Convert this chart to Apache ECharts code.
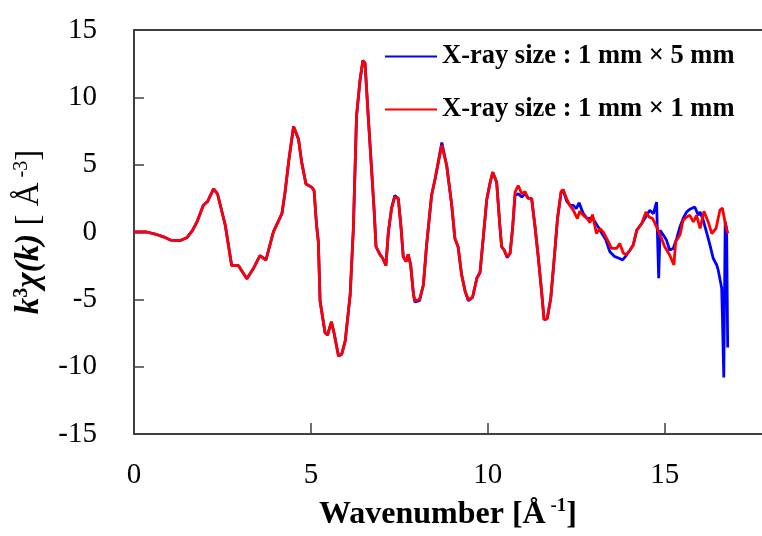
<!DOCTYPE html>
<html>
<head>
<meta charset="utf-8">
<script src="https://cdn.jsdelivr.net/npm/echarts@6/dist/echarts.min.js"></script>
<style>html,body{margin:0;padding:0;background:#fff}#c{width:762px;height:536px}</style>
</head>
<body>
<div id="c"></div>
<script>
// Wavenumber k (1/Å) and k^3 chi(k)
var kRed = [0,0.36,0.6,0.83,1.03,1.31,1.49,1.65,1.78,1.96,2.08,2.25,2.36,2.58,2.76,2.95,3.19,3.38,3.56,3.73,3.94,4.18,4.27,4.38,4.51,4.65,4.74,4.86,5.02,5.09,5.16,5.21,5.26,5.40,5.47,5.58,5.65,5.78,5.87,5.97,6.11,6.20,6.29,6.39,6.47,6.53,6.62,6.72,6.79,6.84,6.95,7.03,7.12,7.19,7.28,7.37,7.47,7.55,7.61,7.69,7.75,7.82,7.90,7.94,8.07,8.18,8.27,8.41,8.51,8.70,8.84,8.98,9.07,9.16,9.26,9.36,9.45,9.57,9.69,9.78,9.87,9.97,10.06,10.14,10.25,10.34,10.39,10.46,10.55,10.63,10.70,10.77,10.86,10.96,11.05,11.14,11.24,11.33,11.43,11.52,11.59,11.68,11.78,11.87,11.97,12.07,12.13,12.23,12.32,12.42,12.53,12.60,12.70,12.81,12.89,12.96,13.07,13.17,13.26,13.36,13.50,13.64,13.73,13.83,13.92,14.02,14.11,14.21,14.35,14.47,14.56,14.66,14.77,14.91,15.00,15.14,15.26,15.31,15.43,15.52,15.62,15.71,15.81,15.90,16.00,16.11,16.23,16.33,16.45,16.56,16.63,16.73,16.79];
var yRed = [0,0,-0.15,-0.36,-0.6,-0.63,-0.43,0.1,0.75,1.98,2.27,3.2,2.84,0.5,-2.49,-2.49,-3.48,-2.69,-1.76,-2.08,0.01,1.36,2.96,5.4,7.83,6.89,5.17,3.57,3.33,3.08,0.5,-0.72,-5.14,-7.48,-7.65,-6.67,-7.45,-9.2,-9.08,-8.09,-4.66,0.26,8.61,11.31,12.73,12.54,8.61,4.44,1.49,-1.09,-1.66,-1.95,-2.49,0.01,1.73,2.59,2.47,0.26,-1.83,-2.2,-1.66,-2.45,-4.66,-5.1,-5.03,-3.92,-0.97,2.71,3.94,6.45,4.9,2.0,-0.48,-1.09,-3.18,-4.41,-5.03,-4.85,-3.43,-3.01,-0.48,2.4,3.6,4.44,3.7,0.5,-1.09,-1.34,-1.83,-1.58,0.26,2.96,3.45,2.84,3.0,2.52,2.47,0.5,-1.95,-4.41,-6.5,-6.43,-4.9,-2.2,1.0,3.0,3.15,2.47,1.98,1.61,1.0,1.54,1.24,1.0,0.7,1.29,-0.11,0.26,0.01,-0.48,-1.22,-1.22,-0.85,-1.58,-1.66,-1.34,-0.97,0.13,0.63,1.49,1.12,1.0,0.38,-0.48,-1.09,-1.71,-2.45,-0.72,-0.23,0.87,1.12,1.24,0.75,1.24,0.26,1.54,0.75,-0.11,0.26,1.61,1.78,0.38,-0.11];
var kBlue = [0,0.36,0.6,0.83,1.03,1.31,1.49,1.65,1.78,1.96,2.08,2.25,2.36,2.58,2.76,2.95,3.19,3.38,3.56,3.73,3.94,4.18,4.27,4.38,4.51,4.65,4.74,4.86,5.02,5.09,5.16,5.21,5.26,5.40,5.47,5.58,5.65,5.78,5.87,5.97,6.11,6.20,6.29,6.39,6.47,6.53,6.62,6.72,6.79,6.84,6.95,7.03,7.12,7.19,7.28,7.37,7.47,7.55,7.61,7.69,7.75,7.82,7.90,7.94,8.07,8.18,8.27,8.41,8.51,8.70,8.84,8.98,9.07,9.16,9.26,9.36,9.45,9.57,9.69,9.78,9.87,9.97,10.06,10.14,10.25,10.34,10.39,10.46,10.55,10.63,10.70,10.77,10.86,10.96,11.05,11.14,11.24,11.33,11.43,11.52,11.59,11.68,11.78,11.87,11.97,12.07,12.13,12.23,12.32,12.42,12.50,12.58,12.70,12.81,12.93,13.00,13.12,13.20,13.34,13.40,13.45,13.59,13.71,13.81,13.92,14.02,14.11,14.21,14.35,14.49,14.58,14.68,14.77,14.81,14.83,14.87,14.96,15.05,15.14,15.24,15.34,15.43,15.52,15.62,15.71,15.85,15.95,16.00,16.09,16.18,16.28,16.37,16.47,16.51,16.61,16.63,16.67,16.71,16.75,16.78];
var yBlue = [0,0,-0.15,-0.36,-0.6,-0.63,-0.43,0.1,0.75,1.98,2.27,3.2,2.84,0.5,-2.49,-2.49,-3.48,-2.69,-1.76,-2.08,0.01,1.36,2.96,5.4,7.83,6.89,5.17,3.57,3.33,3.08,0.5,-0.72,-5.14,-7.48,-7.65,-6.67,-7.45,-9.2,-9.08,-8.09,-4.66,0.26,8.61,11.31,12.73,12.54,8.61,4.44,1.49,-1.09,-1.66,-1.95,-2.49,0.01,1.8,2.7,2.5,0.26,-1.83,-2.2,-1.66,-2.45,-4.66,-5.2,-5.1,-3.92,-0.97,2.71,3.94,6.65,4.9,2.0,-0.48,-1.09,-3.18,-4.41,-5.1,-4.85,-3.43,-3.01,-0.48,2.4,3.6,4.44,3.7,0.5,-1.09,-1.34,-1.9,-1.58,0.26,2.71,2.84,2.6,2.84,2.52,2.47,0.5,-1.95,-4.41,-6.5,-6.43,-4.9,-2.2,1.0,2.9,3.1,2.3,2.0,1.98,1.73,2.17,1.36,0.99,1.05,0.87,0.38,0.0,-0.6,-1.09,-1.46,-1.83,-1.95,-2.08,-1.71,-1.34,-0.97,0.13,0.63,1.24,1.61,1.36,2.22,2.3,-3.43,0.13,-0.23,-0.6,-1.34,-1.22,-0.48,0.38,1.0,1.49,1.69,1.86,1.24,1.49,0.87,0.01,-0.97,-1.95,-2.45,-2.81,-4.16,-6.13,-10.8,0.75,0.26,-8.58];
var yTicks = [-15,-10,-5,0,5,10,15];
var xTicks = [0,5,10,15];
var legendNames = ['X-ray size : 1 mm \u00d7 5 mm', 'X-ray size : 1 mm \u00d7 1 mm'];

function pairs(ks, ys) { return ks.map(function (k, i) { return [k, ys[i]]; }); }

var FONT = '"Liberation Serif", "Times New Roman", serif';
var AX = '#404040';
var chart = echarts.init(document.getElementById('c'), null, { renderer: 'canvas' });
chart.setOption({
  animation: false,
  backgroundColor: '#ffffff',
  grid: { left: 134, right: 0, top: 30, bottom: 99, containLabel: false },
  legend: {
    orient: 'vertical', left: 385, top: 43, padding: 0,
    itemWidth: 52, itemHeight: 2, itemGap: 26,
    icon: 'rect',
    textStyle: { fontFamily: FONT, fontSize: 26.5, fontWeight: 'bold', color: '#000', lineHeight: 26 },
    data: legendNames
  },
  xAxis: [{
    type: 'value', min: 0, max: 17.75, position: 'bottom',
    axisLine: { show: true, onZero: false, lineStyle: { color: AX, width: 2 } },
    axisTick: { show: true, inside: true, length: 11, customValues: xTicks, lineStyle: { color: AX, width: 1.5 } },
    axisLabel: { show: true, customValues: xTicks, margin: 27, fontFamily: FONT, fontSize: 29, color: '#000' },
    splitLine: { show: false },
    name: '{b|Wavenumber [\u00c5}{sup| -1}{b|]}',
    nameLocation: 'middle', nameGap: 63,
    nameTextStyle: {
      rich: {
        b: { fontFamily: FONT, fontSize: 32, fontWeight: 'bold', color: '#000', lineHeight: 34, verticalAlign: 'bottom' },
        sup: { fontFamily: FONT, fontSize: 19, fontWeight: 'bold', color: '#000', lineHeight: 20, verticalAlign: 'top' }
      }
    }
  }, {
    type: 'value', min: 0, max: 17.75, position: 'top',
    axisLine: { show: true, onZero: false, lineStyle: { color: AX, width: 2 } },
    axisTick: { show: false }, axisLabel: { show: false }, splitLine: { show: false }
  }],
  yAxis: {
    type: 'value', min: -15, max: 15, interval: 5,
    axisLine: { show: true, onZero: false, lineStyle: { color: AX, width: 2 } },
    axisTick: { show: true, inside: true, length: 10, lineStyle: { color: AX, width: 1.5 } },
    axisLabel: { margin: 37, fontFamily: FONT, fontSize: 29, color: '#000' },
    splitLine: { show: false },
    name: '{i|k}{isup|3}{i|\u03c7(k)}{n| [ \u00c5}{sup| -3}{n|]}',
    nameLocation: 'middle', nameGap: 88,
    nameTextStyle: {
      rich: {
        i: { fontFamily: FONT, fontSize: 33, fontWeight: 'bold', fontStyle: 'italic', color: '#000', lineHeight: 34, verticalAlign: 'bottom' },
        isup: { fontFamily: FONT, fontSize: 20, fontWeight: 'bold', color: '#000', lineHeight: 20, verticalAlign: 'top' },
        n: { fontFamily: FONT, fontSize: 33, color: '#000', lineHeight: 34, verticalAlign: 'bottom' },
        sup: { fontFamily: FONT, fontSize: 20, color: '#000', lineHeight: 20, verticalAlign: 'top' }
      }
    }
  },
  series: [{
    name: legendNames[0], type: 'line', xAxisIndex: 0, symbol: 'none', smooth: false,
    lineStyle: { color: '#0000ff', width: 2.8 }, itemStyle: { color: '#0000ff' },
    data: pairs(kBlue, yBlue)
  }, {
    name: legendNames[1], type: 'line', xAxisIndex: 0, symbol: 'none', smooth: false,
    lineStyle: { color: '#ff0000', width: 2.8 }, itemStyle: { color: '#ff0000' },
    data: pairs(kRed, yRed)
  }]
});
</script>
</body>
</html>
